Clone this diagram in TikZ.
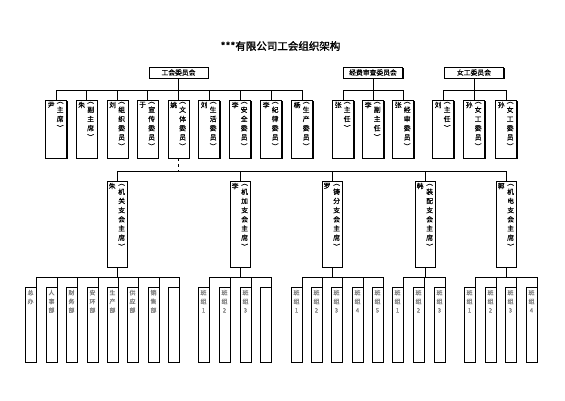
\documentclass[tikz,border=0pt]{standalone}
\usepackage{fontspec}
\newfontfamily\cjk[FakeBold=0.6]{Noto Sans CJK SC}
\newfontfamily\cjkbold[FakeBold=1.5]{Noto Sans CJK SC}
\usetikzlibrary{shadows}

\begin{document}
\begin{tikzpicture}[x=1pt, y=-1pt,
    every node/.style={font=\cjk},
    box/.style={draw, line width=0.7pt, fill=white, inner sep=0pt,
        drop shadow={shadow xshift=1pt, shadow yshift=-1pt, fill=black, opacity=1}},
    topbox/.style={box, minimum width=59pt, minimum height=11pt, font=\cjk\fontsize{6.8}{7}\selectfont},
    member/.style={box, minimum width=21pt, minimum height=58pt},
    chair/.style={box, minimum width=20pt, minimum height=86pt},
    dept/.style={box, minimum width=11pt, minimum height=75pt},
    surname/.style={anchor=north, inner sep=0pt, font=\cjk\fontsize{6.8}{9.2}\selectfont},
    duty/.style={anchor=north, align=center, inner sep=0pt, font=\cjk\fontsize{6.8}{9.2}\selectfont},
    unit/.style={anchor=north, align=center, inner sep=0pt, text=gray, font=\cjk\fontsize{6}{8.8}\selectfont},
    link/.style={line width=0.75pt}]

    \fill[white] (0,0) rectangle (565,400);
    \useasboundingbox (0,0) rectangle (565,400);

    \node[font=\cjkbold\fontsize{10.5}{12}\selectfont] (title) at (280.5, 46) {***有限公司工会组织架构};

    % committees
    \node[topbox] (gonghui) at (178.5, 72.5) {工会委员会};
    \node[topbox] (jingfei) at (373, 72.5) {经费审查委员会};
    \node[topbox] (nvgong) at (474, 72.5) {女工委员会};

    % members
    \node[member] (yin) at (56, 129) {};
    \node[member] (zhu) at (86.5, 129) {};
    \node[member] (liuzz) at (117.5, 129) {};
    \node[member] (yu) at (147.5, 129) {};
    \node[member] (yao) at (178.5, 129) {};
    \node[member] (liush) at (209, 129) {};
    \node[member] (lian) at (240, 129) {};
    \node[member] (liji) at (271, 129) {};
    \node[member] (yang) at (302, 129) {};
    \node[member] (zhang) at (343, 129) {};
    \node[member] (lifu) at (373, 129) {};
    \node[member] (zhangjs) at (403, 129) {};
    \node[member] (liunv) at (443, 129) {};
    \node[member] (sun) at (474, 129) {};
    \node[member] (sunwy) at (506, 129) {};

    \node[surname] (yin-n) at ([shift={(6,2)}]yin.north west) {尹};
    \node[duty] (yin-d) at ([shift={(15,2)}]yin.north west) {︵\\主\\席\\︶};
    \node[surname] (zhu-n) at ([shift={(6,2)}]zhu.north west) {朱};
    \node[duty] (zhu-d) at ([shift={(15,2)}]zhu.north west) {︵\\副\\主\\席\\︶};
    \node[surname] (liuzz-n) at ([shift={(6,2)}]liuzz.north west) {刘};
    \node[duty] (liuzz-d) at ([shift={(15,2)}]liuzz.north west) {︵\\组\\织\\委\\员\\︶};
    \node[surname] (yu-n) at ([shift={(6,2)}]yu.north west) {于};
    \node[duty] (yu-d) at ([shift={(15,2)}]yu.north west) {︵\\宣\\传\\委\\员\\︶};
    \node[surname] (yao-n) at ([shift={(6,2)}]yao.north west) {姚};
    \node[duty] (yao-d) at ([shift={(15,2)}]yao.north west) {︵\\文\\体\\委\\员\\︶};
    \node[surname] (liush-n) at ([shift={(6,2)}]liush.north west) {刘};
    \node[duty] (liush-d) at ([shift={(15,2)}]liush.north west) {︵\\生\\活\\委\\员\\︶};
    \node[surname] (lian-n) at ([shift={(6,2)}]lian.north west) {李};
    \node[duty] (lian-d) at ([shift={(15,2)}]lian.north west) {︵\\安\\全\\委\\员\\︶};
    \node[surname] (liji-n) at ([shift={(6,2)}]liji.north west) {李};
    \node[duty] (liji-d) at ([shift={(15,2)}]liji.north west) {︵\\纪\\律\\委\\员\\︶};
    \node[surname] (yang-n) at ([shift={(6,2)}]yang.north west) {杨};
    \node[duty] (yang-d) at ([shift={(15,2)}]yang.north west) {︵\\生\\产\\委\\员\\︶};
    \node[surname] (zhang-n) at ([shift={(6,2)}]zhang.north west) {张};
    \node[duty] (zhang-d) at ([shift={(15,2)}]zhang.north west) {︵\\主\\任\\︶};
    \node[surname] (lifu-n) at ([shift={(6,2)}]lifu.north west) {李};
    \node[duty] (lifu-d) at ([shift={(15,2)}]lifu.north west) {︵\\副\\主\\任\\︶};
    \node[surname] (zhangjs-n) at ([shift={(6,2)}]zhangjs.north west) {张};
    \node[duty] (zhangjs-d) at ([shift={(15,2)}]zhangjs.north west) {︵\\经\\审\\委\\员\\︶};
    \node[surname] (liunv-n) at ([shift={(6,2)}]liunv.north west) {刘};
    \node[duty] (liunv-d) at ([shift={(15,2)}]liunv.north west) {︵\\主\\任\\︶};
    \node[surname] (sun-n) at ([shift={(6,2)}]sun.north west) {孙};
    \node[duty] (sun-d) at ([shift={(15,2)}]sun.north west) {︵\\女\\工\\委\\员\\︶};
    \node[surname] (sunwy-n) at ([shift={(6,2)}]sunwy.north west) {孙};
    \node[duty] (sunwy-d) at ([shift={(15,2)}]sunwy.north west) {︵\\女\\工\\委\\员\\︶};

    % branch chairs
    \node[chair] (zhujg) at (117, 224) {};
    \node[chair] (lijj) at (240, 224) {};
    \node[chair] (luo) at (332, 224) {};
    \node[chair] (han) at (425, 224) {};
    \node[chair] (guo) at (506, 224) {};

    \node[surname] (zhujg-n) at ([shift={(5.5,2)}]zhujg.north west) {朱};
    \node[duty] (zhujg-d) at ([shift={(15,3)}]zhujg.north west) {︵\\机\\关\\支\\会\\主\\席\\︶};
    \node[surname] (lijj-n) at ([shift={(5.5,2)}]lijj.north west) {李};
    \node[duty] (lijj-d) at ([shift={(15,3)}]lijj.north west) {︵\\机\\加\\支\\会\\主\\席\\︶};
    \node[surname] (luo-n) at ([shift={(5.5,2)}]luo.north west) {罗};
    \node[duty] (luo-d) at ([shift={(15,3)}]luo.north west) {︵\\铸\\分\\支\\会\\主\\席\\︶};
    \node[surname] (han-n) at ([shift={(5.5,2)}]han.north west) {韩};
    \node[duty] (han-d) at ([shift={(15,3)}]han.north west) {︵\\装\\配\\支\\会\\主\\席\\︶};
    \node[surname] (guo-n) at ([shift={(5.5,2)}]guo.north west) {郭};
    \node[duty] (guo-d) at ([shift={(15,3)}]guo.north west) {︵\\机\\电\\支\\会\\主\\席\\︶};

    % departments and teams
    \node[dept] (zongban) at (30.5, 324.5) {};
    \node[dept] (renshi) at (51.5, 324.5) {};
    \node[dept] (caiwu) at (71.5, 324.5) {};
    \node[dept] (anhuan) at (92.5, 324.5) {};
    \node[dept] (shengchan) at (112.5, 324.5) {};
    \node[dept] (gongying) at (132.5, 324.5) {};
    \node[dept] (xiaoshou) at (153.5, 324.5) {};
    \node[dept] (jg-empty) at (173.5, 324.5) {};

    \node[dept] (jj-a) at (203.5, 324.5) {};
    \node[dept] (jj-b) at (224.5, 324.5) {};
    \node[dept] (jj-c) at (245.5, 324.5) {};
    \node[dept] (jj-empty) at (265.5, 324.5) {};

    \node[dept] (zf-a) at (296.5, 324.5) {};
    \node[dept] (zf-b) at (316.5, 324.5) {};
    \node[dept] (zf-c) at (336.5, 324.5) {};
    \node[dept] (zf-d) at (357.5, 324.5) {};
    \node[dept] (zf-e) at (377.5, 324.5) {};

    \node[dept] (zp-a) at (397.5, 324.5) {};
    \node[dept] (zp-b) at (418.5, 324.5) {};
    \node[dept] (zp-c) at (439.5, 324.5) {};

    \node[dept] (jd-a) at (469.5, 324.5) {};
    \node[dept] (jd-b) at (490.5, 324.5) {};
    \node[dept] (jd-c) at (510.5, 324.5) {};
    \node[dept] (jd-d) at (531.5, 324.5) {};

    \node[unit] (zongban-t) at ([yshift=-3pt]zongban.north) {总\\办};
    \node[unit] (renshi-t) at ([yshift=-3pt]renshi.north) {人\\事\\部};
    \node[unit] (caiwu-t) at ([yshift=-3pt]caiwu.north) {财\\务\\部};
    \node[unit] (anhuan-t) at ([yshift=-3pt]anhuan.north) {安\\环\\部};
    \node[unit] (shengchan-t) at ([yshift=-3pt]shengchan.north) {生\\产\\部};
    \node[unit] (gongying-t) at ([yshift=-3pt]gongying.north) {供\\应\\部};
    \node[unit] (xiaoshou-t) at ([yshift=-3pt]xiaoshou.north) {销\\售\\部};
    \node[unit] (jj-a-t) at ([yshift=-3pt]jj-a.north) {班\\组\\1};
    \node[unit] (jj-b-t) at ([yshift=-3pt]jj-b.north) {班\\组\\2};
    \node[unit] (jj-c-t) at ([yshift=-3pt]jj-c.north) {班\\组\\3};
    \node[unit] (zf-a-t) at ([yshift=-3pt]zf-a.north) {班\\组\\1};
    \node[unit] (zf-b-t) at ([yshift=-3pt]zf-b.north) {班\\组\\2};
    \node[unit] (zf-c-t) at ([yshift=-3pt]zf-c.north) {班\\组\\3};
    \node[unit] (zf-d-t) at ([yshift=-3pt]zf-d.north) {班\\组\\4};
    \node[unit] (zf-e-t) at ([yshift=-3pt]zf-e.north) {班\\组\\5};
    \node[unit] (zp-a-t) at ([yshift=-3pt]zp-a.north) {班\\组\\1};
    \node[unit] (zp-b-t) at ([yshift=-3pt]zp-b.north) {班\\组\\2};
    \node[unit] (zp-c-t) at ([yshift=-3pt]zp-c.north) {班\\组\\3};
    \node[unit] (jd-a-t) at ([yshift=-3pt]jd-a.north) {班\\组\\1};
    \node[unit] (jd-b-t) at ([yshift=-3pt]jd-b.north) {班\\组\\2};
    \node[unit] (jd-c-t) at ([yshift=-3pt]jd-c.north) {班\\组\\3};
    \node[unit] (jd-d-t) at ([yshift=-3pt]jd-d.north) {班\\组\\4};

    % committee links
    \draw[link] (gonghui.south) -- ++(0,12) coordinate (gh-bus);
    \draw[link] (yin.north) |- (gh-bus);
    \draw[link] (zhu.north) |- (gh-bus);
    \draw[link] (liuzz.north) |- (gh-bus);
    \draw[link] (yu.north) |- (gh-bus);
    \draw[link] (yao.north) |- (gh-bus);
    \draw[link] (liush.north) |- (gh-bus);
    \draw[link] (lian.north) |- (gh-bus);
    \draw[link] (liji.north) |- (gh-bus);
    \draw[link] (yang.north) |- (gh-bus);

    \draw[link] (jingfei.south) -- ++(0,12) coordinate (jf-bus);
    \draw[link] (zhang.north) |- (jf-bus);
    \draw[link] (lifu.north) |- (jf-bus);
    \draw[link] (zhangjs.north) |- (jf-bus);

    \draw[link] (nvgong.south) -- ++(0,12) coordinate (nv-bus);
    \draw[link] (liunv.north) |- (nv-bus);
    \draw[link] (sun.north) |- (nv-bus);
    \draw[link] (sunwy.north) |- (nv-bus);

    % branch links
    \draw[link, dashed, line width=1.2pt] (yao.south) -- ++(0,13) coordinate (zh-bus);
    \draw[link] (zhujg.north) |- (zh-bus);
    \draw[link] (lijj.north) |- (zh-bus);
    \draw[link] (luo.north) |- (zh-bus);
    \draw[link] (han.north) |- (zh-bus);
    \draw[link] (guo.north) |- (zh-bus);

    % team links
    \draw[link] (zhujg.south) -- ++(0,10) coordinate (jg-bus);
    \draw[link] (zongban.north east) |- (jg-bus);
    \draw[link] (renshi.north east) |- (jg-bus);
    \draw[link] (caiwu.north east) |- (jg-bus);
    \draw[link] (anhuan.north east) |- (jg-bus);
    \draw[link] (shengchan.north east) |- (jg-bus);
    \draw[link] (gongying.north east) |- (jg-bus);
    \draw[link] (xiaoshou.north east) |- (jg-bus);
    \draw[link] (jg-empty.north east) |- (jg-bus);

    \draw[link] (lijj.south) -- ++(0,10) coordinate (jj-bus);
    \draw[link] (jj-a.north east) |- (jj-bus);
    \draw[link] (jj-b.north east) |- (jj-bus);
    \draw[link] (jj-c.north east) |- (jj-bus);
    \draw[link] (jj-empty.north east) |- (jj-bus);

    \draw[link] (luo.south) -- ++(0,10) coordinate (zf-bus);
    \draw[link] (zf-a.north east) |- (zf-bus);
    \draw[link] (zf-b.north east) |- (zf-bus);
    \draw[link] (zf-c.north east) |- (zf-bus);
    \draw[link] (zf-d.north east) |- (zf-bus);
    \draw[link] (zf-e.north east) |- (zf-bus);

    \draw[link] (han.south) -- ++(0,10) coordinate (zp-bus);
    \draw[link] (zp-a.north east) |- (zp-bus);
    \draw[link] (zp-b.north east) |- (zp-bus);
    \draw[link] (zp-c.north east) |- (zp-bus);

    \draw[link] (guo.south) -- ++(0,10) coordinate (jd-bus);
    \draw[link] (jd-a.north east) |- (jd-bus);
    \draw[link] (jd-b.north east) |- (jd-bus);
    \draw[link] (jd-c.north east) |- (jd-bus);
    \draw[link] (jd-d.north east) |- (jd-bus);

\end{tikzpicture}
\end{document}
